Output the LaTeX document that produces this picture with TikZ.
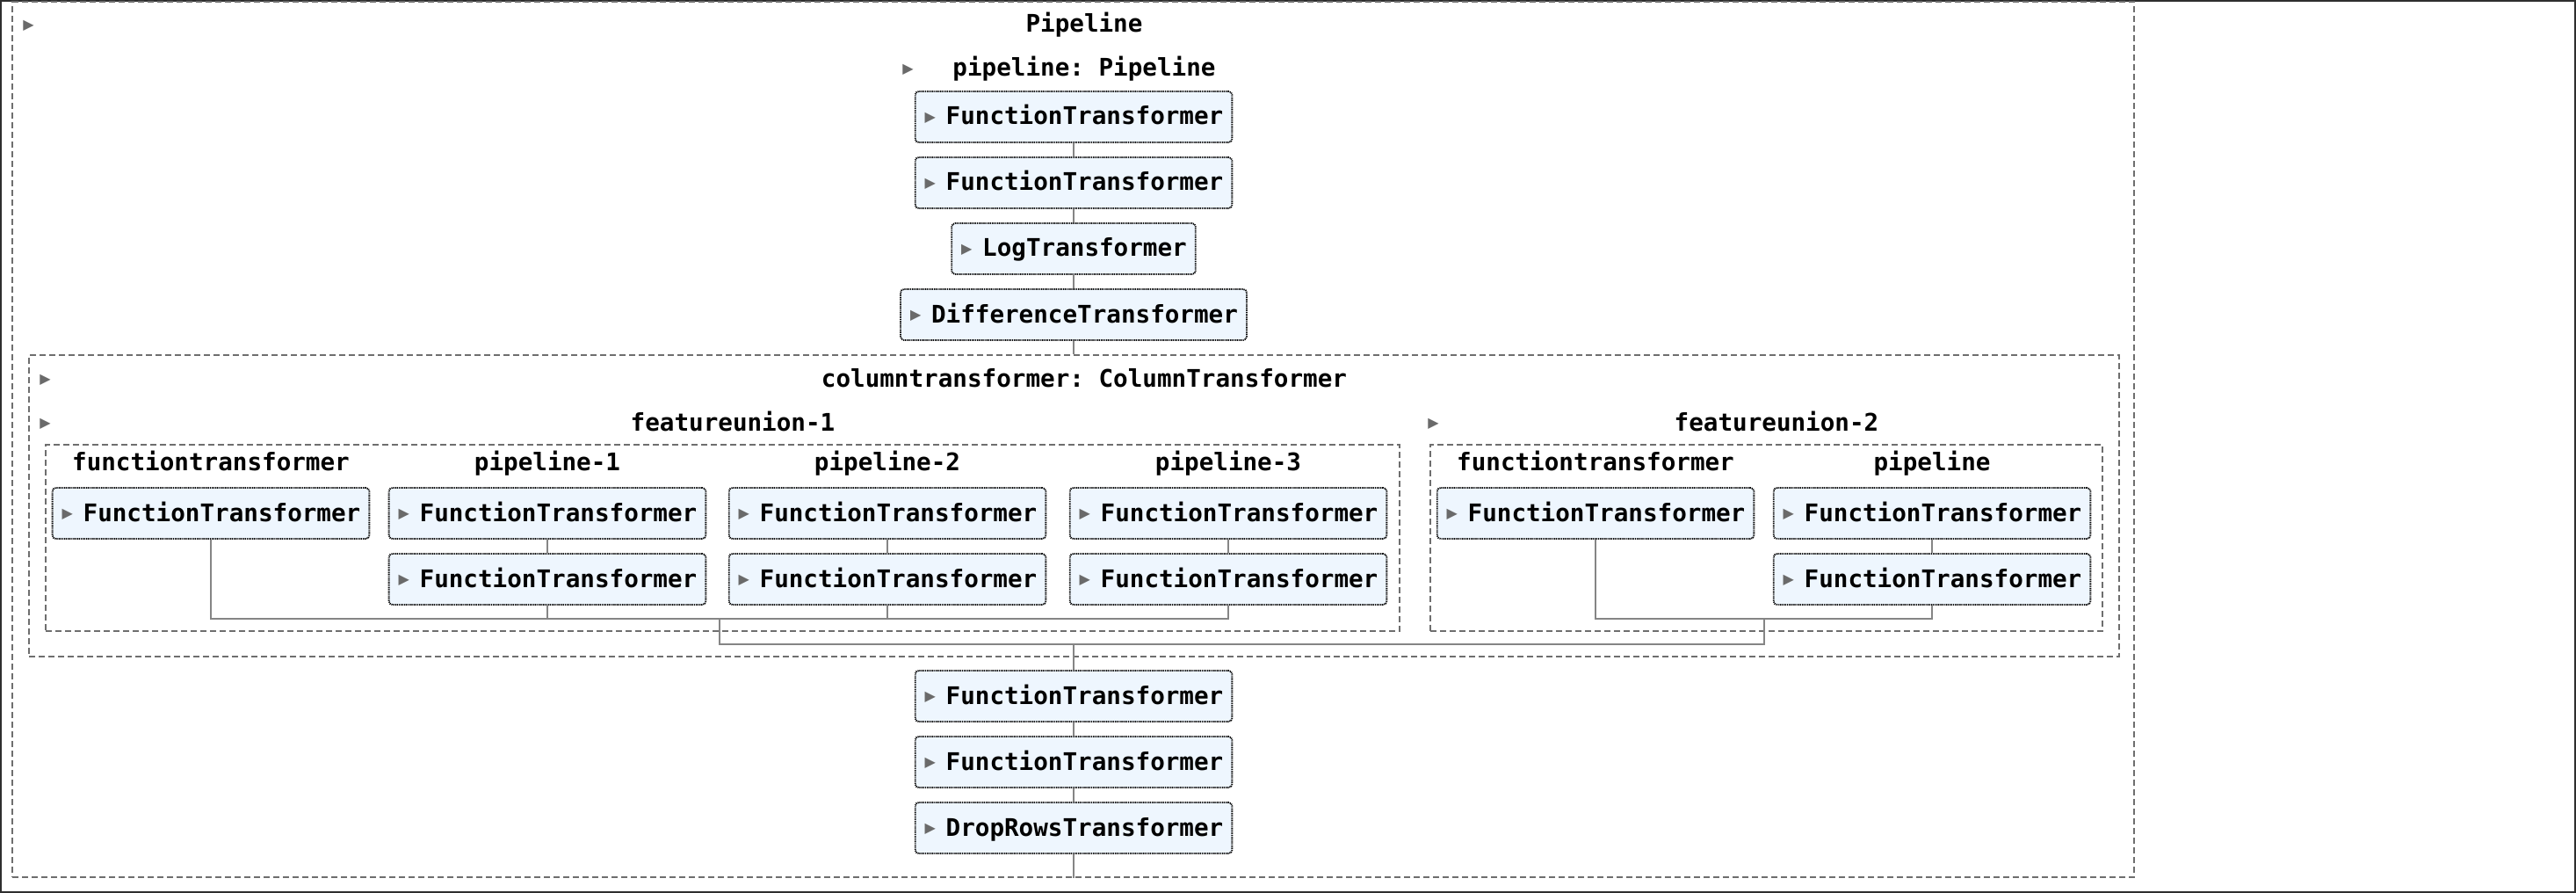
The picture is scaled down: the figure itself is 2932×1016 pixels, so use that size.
\documentclass[tikz,border=0pt]{standalone}
\usepackage{fontspec}
\usepackage{xcolor}
\setmonofont{DejaVu Sans Mono}
\newfontfamily\symfont{DejaVu Sans}
\usetikzlibrary{fit}

\definecolor{boxfill}{HTML}{EEF6FE}
\definecolor{togglegray}{HTML}{6A6A6A}
\definecolor{groupgray}{HTML}{6E6E6E}
\definecolor{linkgray}{HTML}{858585}
\definecolor{framegray}{HTML}{2E2E2E}
\newcommand{\tri}{\makebox[5pt][l]{\raisebox{1.6pt}{\textcolor{togglegray}{\symfont\fontsize{8}{8}\selectfont ▶}}}}

\begin{document}
\begin{tikzpicture}[x=0.5pt, y=-0.5pt,
    estimator/.style ={rectangle, rounded corners=2pt, draw=black, fill=boxfill,
      line width=0.9pt, dash pattern=on 0.6pt off 0.45pt, minimum height=29pt,
      inner xsep=5pt, inner ysep=0pt, text height=9pt, text depth=0pt,
      font=\ttfamily\bfseries\fontsize{13.8}{16}\selectfont},
    group/.style ={rectangle, draw=groupgray, line width=1pt,
      dash pattern=on 3.5pt off 2pt, inner sep=0pt},
    title/.style ={anchor=base, inner sep=0pt,
      font=\ttfamily\bfseries\fontsize{13.8}{16}\selectfont},
    toggle/.style ={anchor=base west, inner sep=0pt},
    link/.style ={draw=linkgray, line width=1pt}]
   \useasboundingbox (0,0) rectangle (2932,1016);
   \draw[framegray, line width=1pt] (1,1) rectangle (2931,1015);

   \node[group, fit={(14,2.5) (2429,998)}] (outer) {};
   \node[toggle] (tpipe) at (26,37) {\tri};
   \node[title] (lpipe) at (1234,37) {Pipeline};
   \node[toggle] (tinner) at (1027,87) {\tri};
   \node[title] (linner) at (1234,87) {pipeline: Pipeline};

   \node[estimator] (ft1)  at (1222,133) {\hspace{0.5pt}\tri\hspace{7pt}FunctionTransformer};
   \node[estimator] (ft2)  at (1222,208) {\hspace{0.5pt}\tri\hspace{7pt}FunctionTransformer};
   \node[estimator] (log)  at (1222,283) {\hspace{0.5pt}\tri\hspace{7pt}LogTransformer};
   \node[estimator] (diff) at (1222,358) {\hspace{0.5pt}\tri\hspace{7pt}DifferenceTransformer};

   \node[group, fit={(33,404) (2412,747)}] (ct) {};
   \node[toggle] (tct) at (45,440) {\tri};
   \node[title] (lct) at (1234,440) {columntransformer: ColumnTransformer};
   \node[toggle] (tfu1) at (45,490) {\tri};
   \node[title] (lfu1) at (834,490) {featureunion-1};
   \node[toggle] (tfu2) at (1625,490) {\tri};
   \node[title] (lfu2) at (2022,490) {featureunion-2};
   \node[group, fit={(52,506) (1593,718)}] (fu1) {};
   \node[group, fit={(1628,506) (2393,718)}] (fu2) {};

   \node[title] (lftA) at (240,535)  {functiontransformer};
   \node[title] (lp1)  at (623,535)  {pipeline-1};
   \node[title] (lp2)  at (1010,535) {pipeline-2};
   \node[title] (lp3)  at (1398,535) {pipeline-3};
   \node[title] (lftB) at (1816,535) {functiontransformer};
   \node[title] (lp)   at (2199,535) {pipeline};

   \node[estimator] (ftA) at (240,584)  {\hspace{0.5pt}\tri\hspace{7pt}FunctionTransformer};
   \node[estimator] (p1a) at (623,584)  {\hspace{0.5pt}\tri\hspace{7pt}FunctionTransformer};
   \node[estimator] (p1b) at (623,659)  {\hspace{0.5pt}\tri\hspace{7pt}FunctionTransformer};
   \node[estimator] (p2a) at (1010,584) {\hspace{0.5pt}\tri\hspace{7pt}FunctionTransformer};
   \node[estimator] (p2b) at (1010,659) {\hspace{0.5pt}\tri\hspace{7pt}FunctionTransformer};
   \node[estimator] (p3a) at (1398,584) {\hspace{0.5pt}\tri\hspace{7pt}FunctionTransformer};
   \node[estimator] (p3b) at (1398,659) {\hspace{0.5pt}\tri\hspace{7pt}FunctionTransformer};
   \node[estimator] (ftB) at (1816,584) {\hspace{0.5pt}\tri\hspace{7pt}FunctionTransformer};
   \node[estimator] (pa)  at (2199,584) {\hspace{0.5pt}\tri\hspace{7pt}FunctionTransformer};
   \node[estimator] (pb)  at (2199,659) {\hspace{0.5pt}\tri\hspace{7pt}FunctionTransformer};

   \node[estimator] (ft3)  at (1222,792) {\hspace{0.5pt}\tri\hspace{7pt}FunctionTransformer};
   \node[estimator] (ft4)  at (1222,867) {\hspace{0.5pt}\tri\hspace{7pt}FunctionTransformer};
   \node[estimator] (drop) at (1222,942) {\hspace{0.5pt}\tri\hspace{7pt}DropRowsTransformer};

   \coordinate (bus1) at (819,704);
   \coordinate (bus2) at (2008,704);
   \coordinate (bus)  at (819,733);

   \draw[link] (ft1) -- (ft2);
   \draw[link] (ft2) -- (log);
   \draw[link] (log) -- (diff);
   \draw[link] (diff) -- (diff |- ct.north);
   \draw[link] (ftA) |- (bus1);
   \draw[link] (p3b) |- (bus1);
   \draw[link] (p1a) -- (p1b);
   \draw[link] (p2a) -- (p2b);
   \draw[link] (p3a) -- (p3b);
   \draw[link] (p1b) -- (p1b |- bus1);
   \draw[link] (p2b) -- (p2b |- bus1);
   \draw[link] (pa) -- (pb);
   \draw[link] (ftB) |- (bus2);
   \draw[link] (pb) |- (bus2);
   \draw[link] (bus1) -- (bus) -| (bus2);
   \draw[link] (ft3 |- bus) -- (ft3);
   \draw[link] (ft3) -- (ft4);
   \draw[link] (ft4) -- (drop);
   \draw[link] (drop) -- (drop |- outer.south);
 \end{tikzpicture}
\end{document}
